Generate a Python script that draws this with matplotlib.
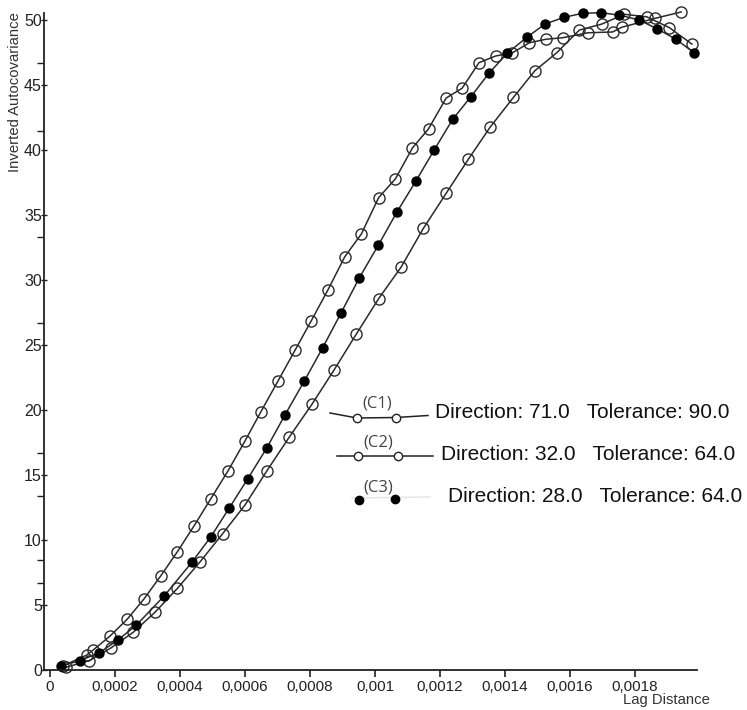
import numpy as np
import matplotlib
matplotlib.use('Agg')
import matplotlib.pyplot as plt
from matplotlib.lines import Line2D

# lag distance / inverted autocovariance, three directions
c1_x = [0.000039, 0.000113, 0.000133, 0.000185, 0.000238, 0.000289, 0.000341, 0.000392, 0.000443,
        0.000495, 0.000548, 0.000600, 0.000649, 0.000701, 0.000754, 0.000804, 0.000855, 0.000907,
        0.000958, 0.001011, 0.001063, 0.001115, 0.001165, 0.001219, 0.001268, 0.001320, 0.001371,
        0.001423, 0.001475, 0.001526, 0.001578, 0.001655, 0.001731, 0.001759, 0.001862, 0.001942]
c1_y = [0.31, 1.15, 1.54, 2.62, 3.92, 5.46, 7.25, 9.10, 11.08, 13.18, 15.33, 17.62, 19.87, 22.21,
        24.6, 26.87, 29.23, 31.79, 33.54, 36.33, 37.79, 40.15, 41.64, 44.0, 44.75, 46.72, 47.23,
        47.48, 48.25, 48.52, 48.64, 49.02, 49.08, 49.44, 50.13, 50.62]

c2_x = [0.000049, 0.000121, 0.000187, 0.000256, 0.000323, 0.000392, 0.000462, 0.000531, 0.000600,
        0.000667, 0.000736, 0.000806, 0.000874, 0.000942, 0.001011, 0.001080, 0.001149, 0.001219,
        0.001287, 0.001354, 0.001426, 0.001492, 0.001559, 0.001629, 0.001698, 0.001767, 0.001836,
        0.001906, 0.001975]
c2_y = [0.21, 0.72, 1.69, 2.90, 4.44, 6.28, 8.33, 10.48, 12.69, 15.31, 17.91, 20.44, 23.08, 25.82,
        28.56, 30.98, 33.98, 36.67, 39.28, 41.75, 44.05, 46.1, 47.48, 49.23, 49.69, 50.44, 50.25,
        49.41, 48.15]

c3_x = [0.000034, 0.000092, 0.000152, 0.000209, 0.000266, 0.000351, 0.000436, 0.000495, 0.000551,
        0.000608, 0.000667, 0.000723, 0.000782, 0.000839, 0.000895, 0.000952, 0.001010, 0.001067,
        0.001126, 0.001182, 0.001239, 0.001295, 0.001352, 0.001407, 0.001467, 0.001523, 0.001582,
        0.001639, 0.001695, 0.001752, 0.001813, 0.001869, 0.001926, 0.001982]
c3_y = [0.31, 0.72, 1.33, 2.31, 3.46, 5.69, 8.27, 10.25, 12.44, 14.69, 17.08, 19.62, 22.21, 24.79,
        27.44, 30.18, 32.67, 35.21, 37.62, 40.0, 42.36, 44.1, 45.95, 47.44, 48.67, 49.69, 50.21,
        50.52, 50.56, 50.38, 50.0, 49.31, 48.52, 47.48]

legend_tags = ['(C1)', '(C2)', '(C3)']
legend_texts = ['Direction: 71.0   Tolerance: 90.0',
                'Direction: 32.0   Tolerance: 64.0',
                'Direction: 28.0   Tolerance: 64.0']

x_ticks = [0, 0.0002, 0.0004, 0.0006, 0.0008, 0.001, 0.0012, 0.0014, 0.0016, 0.0018]
x_ticklabels = ['0', '0,0002', '0,0004', '0,0006', '0,0008', '0,001', '0,0012', '0,0014',
                '0,0016', '0,0018']
y_ticks = [0, 5, 10, 15, 20, 25, 30, 35, 40, 45, 50]

W, H = 747, 710
plt.rcParams['font.family'] = ['Liberation Sans', 'DejaVu Sans']


def fx(px):
    return px / W


def fy(py):
    return 1 - py / H


fig = plt.figure(figsize=(W / 100, H / 100), dpi=100)
ax = fig.add_axes([fx(44), fy(670), fx(697) - fx(44), fy(13) - fy(670)])

line_col = '#2a2a2a'
ax.plot(c1_x, c1_y, color=line_col, lw=1.1, marker='o', ms=8, mfc='none', mec=line_col, mew=1.0,
        clip_on=False)
ax.plot(c2_x, c2_y, color=line_col, lw=1.1, marker='o', ms=8, mfc='none', mec=line_col, mew=1.0,
        clip_on=False)
ax.plot(c3_x, c3_y, color=line_col, lw=1.1, marker='o', ms=6.5, mfc='black', mec='black',
        clip_on=False)

ax.set_xlim(-0.0000185, 0.0019908)
ax.set_ylim(0, 50.54)
for s in ['top', 'right']:
    ax.spines[s].set_visible(False)
for s in ['left', 'bottom']:
    ax.spines[s].set_linewidth(1.3)
    ax.spines[s].set_color('#222222')

ax.set_xticks(x_ticks)
ax.set_xticklabels(x_ticklabels)
ax.set_yticks(y_ticks)
ax.set_yticks([6.7, 8.5, 13.4, 16.7, 26.7, 33.3, 41.5, 46.7], minor=True)
ax.tick_params(axis='x', direction='out', length=5, width=1.2, pad=2, labelsize=11,
               colors='#222222')
ax.tick_params(axis='y', which='major', direction='inout', length=5, width=1.0, pad=-1,
               labelsize=11.5, colors='#222222')
ax.tick_params(axis='y', which='minor', direction='out', length=5, width=1.0, colors='#222222')

fig.text(fx(15), fy(12), 'Inverted Autocovariance', rotation=90, ha='center', va='top',
         fontsize=10.7, color='#333333')
fig.text(fx(623), fy(700), 'Lag Distance', ha='left', va='center', fontsize=10.7, color='#333333')

# legend drawn by hand
rows = [
    dict(line=([330, 357, 396, 428], [413, 418, 417.5, 415.5]), mk=([357, 396], [418, 417.5]),
         filled=False, tag=(377, 404), text=(435, 412), lc='#222222'),
    dict(line=([337, 433], [456, 456]), mk=([358, 398], [456, 456]),
         filled=False, tag=(378, 443), text=(441, 454), lc='#222222'),
    dict(line=([352, 430], [498, 497]), mk=([359, 395], [500, 499]),
         filled=True, tag=(378, 487), text=(448, 496), lc='#e6e6e6'),
]
for i, r in enumerate(rows):
    lx, ly = r['line']
    fig.add_artist(Line2D([fx(v) for v in lx], [fy(v) for v in ly], color=r['lc'], lw=1.1,
                          transform=fig.transFigure))
    mx, my = r['mk']
    if r['filled']:
        fig.add_artist(Line2D([fx(v) for v in mx], [fy(v) for v in my], ls='none', marker='o',
                              ms=6, mfc='black', mec='black', transform=fig.transFigure))
    else:
        fig.add_artist(Line2D([fx(v) for v in mx], [fy(v) for v in my], ls='none', marker='o',
                              ms=6, mfc='white', mec='#222222', mew=1.0,
                              transform=fig.transFigure))
    fig.text(fx(r['tag'][0]), fy(r['tag'][1]), legend_tags[i], ha='center', va='center',
             fontsize=12, family=['Open Sans', 'DejaVu Sans'], color='#444444')
    fig.text(fx(r['text'][0]), fy(r['text'][1]), legend_texts[i], ha='left', va='center',
             fontsize=15, color='#111111')

fig.savefig('out.png', dpi=100)
